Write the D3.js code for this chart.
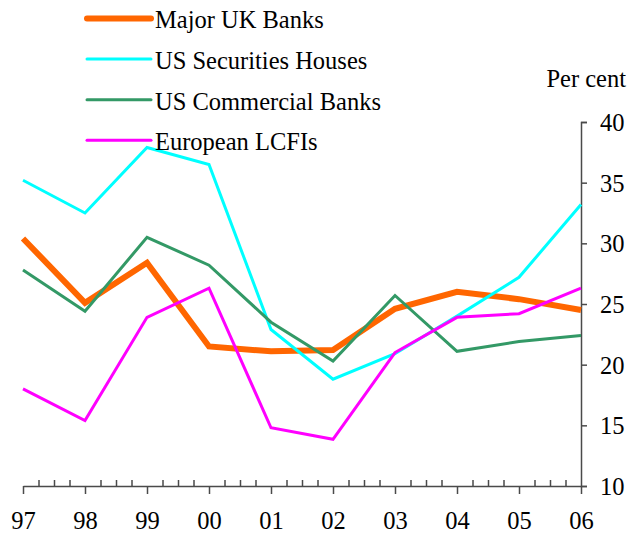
<!DOCTYPE html>
<html>
<head>
<meta charset="utf-8">
<script src="https://cdn.jsdelivr.net/npm/d3@7"></script>
<style>
  body { margin: 0; background: #fff; }
</style>
</head>
<body>
<div id="chart"></div>
<script>
// Years on the x axis and their labels
const YEARS = [1997, 1998, 1999, 2000, 2001, 2002, 2003, 2004, 2005, 2006];
const YEAR_LABELS = ["97", "98", "99", "00", "01", "02", "03", "04", "05", "06"];

// Series values (per cent)
const MAJOR_UK = [30.4, 25.1, 28.4, 21.5, 21.1, 21.2, 24.6, 26.0, 25.4, 24.5];
const US_SECURITIES = [35.2, 32.5, 37.9, 36.5, 22.9, 18.8, 20.9, 24.0, 27.2, 33.2];
const US_COMMERCIAL = [27.8, 24.4, 30.5, 28.2, 23.5, 20.3, 25.7, 21.1, 21.9, 22.4];
const EUROPEAN = [18.0, 15.4, 23.9, 26.3, 14.8, 13.85, 21.0, 23.9, 24.2, 26.3];

const Y_TICKS = [10, 15, 20, 25, 30, 35, 40];

let series = [
    { name: "Major UK Banks", values: MAJOR_UK, color: "#ff6600", width: 6 },
    { name: "US Securities Houses", values: US_SECURITIES, color: "#00ffff", width: 3 },
    { name: "US Commercial Banks", values: US_COMMERCIAL, color: "#339966", width: 3 },
    { name: "European LCFIs", values: EUROPEAN, color: "#ff00ff", width: 3 }
];

let fontStyle = "font-family:'Liberation Serif';font-size:24.5px";
let svgWidth = 630;
let svgHeight = 536;

let svg = d3.select('#chart')
    .append('svg')
    .attr('width', svgWidth)
    .attr('height', svgHeight);

let x = d3.scaleLinear()
    .domain([1997, 2006])
    .range([23, 581]);

let y = d3.scaleLinear()
    .domain([10, 40])
    .range([486, 122]);

let axisColor = "#4a4a4a";

// minor quarterly ticks pointing up
let minor = svg.append('g')
    .attr('transform', `translate(0, ${y(10)})`)
    .call(d3.axisTop(x)
        .tickValues(d3.range(1997, 2006.01, 0.25).filter(v => v % 1 !== 0))
        .tickSize(6)
        .tickSizeOuter(0)
        .tickFormat(''));
minor.select('.domain').remove();

// major year ticks pointing down
let xAxis = svg.append('g')
    .attr('transform', `translate(0, ${y(10)})`)
    .call(d3.axisBottom(x)
        .tickValues(YEARS)
        .tickSize(8)
        .tickSizeOuter(0)
        .tickPadding(18)
        .tickFormat((d, i) => YEAR_LABELS[i]));

let yAxis = svg.append('g')
    .attr('transform', `translate(${x(2006)}, 0)`)
    .call(d3.axisRight(y)
        .tickValues(Y_TICKS)
        .tickSize(6)
        .tickPadding(13));
yAxis.selectAll('text').attr('dy', '0.34em');

svg.selectAll('.domain, .tick line')
    .attr('stroke', axisColor)
    .attr('stroke-width', 1.5);

svg.selectAll('.tick text')
    .attr('fill', '#000')
    .attr('style', fontStyle);

svg.append('text')
    .attr('x', 626)
    .attr('y', 87)
    .attr('text-anchor', 'end')
    .attr('style', fontStyle)
    .text('Per cent');

// lines
let line = d3.line()
    .x((d, i) => x(YEARS[i]))
    .y(d => y(d));

svg.selectAll('path.series')
    .data(series)
    .enter()
    .append('path')
    .attr('class', 'series')
    .attr('fill', 'none')
    .attr('stroke', d => d.color)
    .attr('stroke-width', d => d.width)
    .attr('stroke-linejoin', 'miter')
    .attr('d', d => line(d.values));

// legend
let legend = svg.selectAll('g.legend')
    .data(series)
    .enter()
    .append('g')
    .attr('class', 'legend')
    .attr('transform', (d, i) => `translate(0, ${18.5 + i * 40.6})`);

legend.append('line')
    .attr('x1', 87)
    .attr('x2', 151)
    .attr('stroke', d => d.color)
    .attr('stroke-width', d => d.width)
    .attr('stroke-linecap', 'round');

legend.append('text')
    .attr('x', 155)
    .attr('y', 9.8)
    .attr('style', fontStyle)
    .text(d => d.name);
</script>
</body>
</html>
